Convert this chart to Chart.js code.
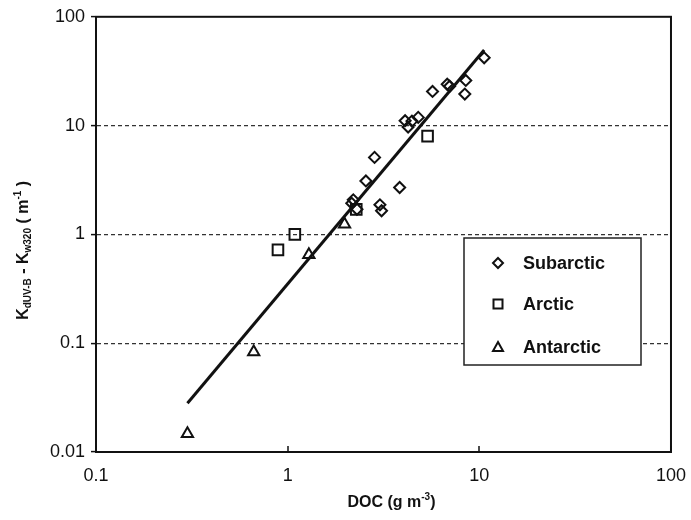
<!DOCTYPE html>
<html>
<head>
<meta charset="utf-8">
<script src="https://cdn.jsdelivr.net/npm/chart.js@4/dist/chart.umd.min.js"></script>
<style>
  html, body { margin: 0; padding: 0; background: #fff; }
</style>
</head>
<body>
<canvas id="chart" width="691" height="520"></canvas>
<script>
// DOC (g m-3) vs Kd(UV-B) - Kw320 (m-1), one pair of arrays per region
const subarcticDoc = [10.6, 8.5, 8.4, 6.8, 7.0, 5.7, 4.8, 4.1, 4.45, 4.25, 2.84, 2.56, 3.84, 2.2, 2.16, 3.03, 3.09, 2.3];
const subarcticK   = [42,   26,  19.5, 24,  23,  20.6, 11.9, 11.1, 11.0, 9.7, 5.1, 3.1, 2.7, 2.08, 1.93, 1.87, 1.65, 1.7];

const arcticDoc = [5.37, 1.09, 0.89, 2.28];
const arcticK   = [8.0,  1.0,  0.72, 1.7];

const antarcticDoc = [1.98, 1.29, 0.665, 0.30];
const antarcticK   = [1.24, 0.65, 0.083, 0.0147];

// fitted power-law line, end points
const fitDoc = [0.30, 10.6];
const fitK   = [0.0281, 49.6];

const xTickValues = [0.1, 1, 10, 100];
const yTickValues = [0.01, 0.1, 1, 10, 100];
const legendLabels = ["Subarctic", "Arctic", "Antarctic"];

const FONT = "'Liberation Sans', Arial, Helvetica, sans-serif";
const INK = "#111";

function toPoints(xs, ys) {
	return xs.map((x, i) => ({ x: x, y: ys[i] }));
}

// draws a run of text pieces (normal / sub / sup) centred on cx
function drawRich(ctx, parts, cx, baseline) {
	let total = 0;
	parts.forEach(p => {
		ctx.font = p.font;
		p.w = ctx.measureText(p.text).width;
		total += p.w;
	});
	let x = cx - total / 2;
	ctx.textAlign = "left";
	ctx.textBaseline = "alphabetic";
	parts.forEach(p => {
		ctx.font = p.font;
		ctx.fillText(p.text, x, baseline + (p.dy || 0));
		x += p.w;
	});
}

const framePlugin = {
	id: "frame",
	afterDraw(chart) {
		const ctx = chart.ctx;
		const a = chart.chartArea;
		const xs = chart.scales.x;
		ctx.save();
		ctx.strokeStyle = INK;
		ctx.lineWidth = 2;
		ctx.strokeRect(a.left, a.top, a.right - a.left, a.bottom - a.top);

		// short inward ticks on the bottom axis
		ctx.lineWidth = 1.5;
		ctx.beginPath();
		xTickValues.forEach(v => {
			const px = Math.round(xs.getPixelForValue(v));
			ctx.moveTo(px, a.bottom);
			ctx.lineTo(px, a.bottom - 6);
		});
		ctx.stroke();

		// axis titles
		ctx.fillStyle = INK;
		const big = "bold 16px " + FONT;
		const small = "bold 10px " + FONT;
		drawRich(ctx, [
			{ text: "DOC (g m", font: big },
			{ text: "-3", font: small, dy: -7 },
			{ text: ")", font: big }
		], (a.left + a.right) / 2 + 8, 507);

		ctx.translate(28, (a.top + a.bottom) / 2 + 16);
		ctx.rotate(-Math.PI / 2);
		drawRich(ctx, [
			{ text: "K", font: big },
			{ text: "dUV-B", font: small, dy: 3 },
			{ text: " - K", font: big },
			{ text: "w320", font: small, dy: 3 },
			{ text: " ( m", font: big },
			{ text: "-1", font: small, dy: -7 },
			{ text: " )", font: big }
		], 0, 0);
		ctx.restore();

		// legend box
		ctx.save();
		ctx.fillStyle = "#fff";
		ctx.fillRect(464, 238, 177, 127);
		ctx.strokeStyle = "#222";
		ctx.lineWidth = 1.5;
		ctx.strokeRect(464, 238, 177, 127);
		const rows = [263, 304, 347];
		ctx.lineWidth = 2;
		ctx.strokeStyle = INK;
		rows.forEach((ry, i) => {
			const mx = 498;
			ctx.beginPath();
			if (i === 0) {
				ctx.moveTo(mx, ry - 5); ctx.lineTo(mx + 5, ry);
				ctx.lineTo(mx, ry + 5); ctx.lineTo(mx - 5, ry);
				ctx.closePath();
			} else if (i === 1) {
				ctx.rect(mx - 4.5, ry - 4.5, 9, 9);
			} else {
				ctx.moveTo(mx, ry - 5); ctx.lineTo(mx + 5, ry + 4);
				ctx.lineTo(mx - 5, ry + 4); ctx.closePath();
			}
			ctx.stroke();
			ctx.fillStyle = INK;
			ctx.font = "bold 18px " + FONT;
			ctx.textAlign = "left";
			ctx.textBaseline = "middle";
			ctx.fillText(legendLabels[i], 523, ry + 1);
		});
		ctx.restore();
	}
};

const markerBase = {
	backgroundColor: "rgba(0,0,0,0)",
	borderColor: INK,
	borderWidth: 2,
	showLine: false
};

const chart = new Chart(document.getElementById("chart").getContext("2d"), {
	type: "scatter",
	data: {
		datasets: [
			{
				label: "fit",
				type: "line",
				data: toPoints(fitDoc, fitK),
				borderColor: INK,
				borderWidth: 3,
				pointRadius: 0,
				fill: false
			},
			Object.assign({ label: legendLabels[0], data: toPoints(subarcticDoc, subarcticK), pointStyle: "rectRot", pointRadius: 5.5 }, markerBase),
			Object.assign({ label: legendLabels[1], data: toPoints(arcticDoc, arcticK), pointStyle: "rect", pointRadius: 7.5 }, markerBase),
			Object.assign({ label: legendLabels[2], data: toPoints(antarcticDoc, antarcticK), pointStyle: "triangle", pointRadius: 6.5 }, markerBase)
		]
	},
	options: {
		responsive: false,
		animation: false,
		layout: { padding: { top: 15, right: 9, left: 0, bottom: 0 } },
		plugins: {
			legend: { display: false },
			tooltip: { enabled: false }
		},
		scales: {
			x: {
				type: "logarithmic",
				min: 0.1,
				max: 100,
				afterBuildTicks: s => { s.ticks = xTickValues.map(v => ({ value: v })); },
				afterFit: s => { s.height = 68; },
				ticks: {
					color: INK,
					font: { family: FONT, size: 18 },
					maxRotation: 0,
					padding: 5,
					callback: v => String(v)
				},
				grid: { display: false },
				border: { display: true, color: INK, width: 2 }
			},
			y: {
				type: "logarithmic",
				min: 0.01,
				max: 100,
				afterBuildTicks: s => { s.ticks = yTickValues.map(v => ({ value: v })); },
				afterFit: s => { s.width = 96; },
				ticks: {
					color: INK,
					font: { family: FONT, size: 18 },
					padding: 6,
					callback: v => String(v)
				},
				grid: {
					drawOnChartArea: true,
					drawTicks: true,
					tickLength: 5,
					tickColor: INK,
					tickWidth: 1.5,
					lineWidth: 1.2,
					color: ctx => (ctx.tick && (ctx.tick.value === 100 || ctx.tick.value === 0.01)) ? "rgba(0,0,0,0)" : "#333"
				},
				border: { display: true, color: INK, width: 2, dash: [4, 3] }
			}
		}
	},
	plugins: [framePlugin]
});
</script>
</body>
</html>
